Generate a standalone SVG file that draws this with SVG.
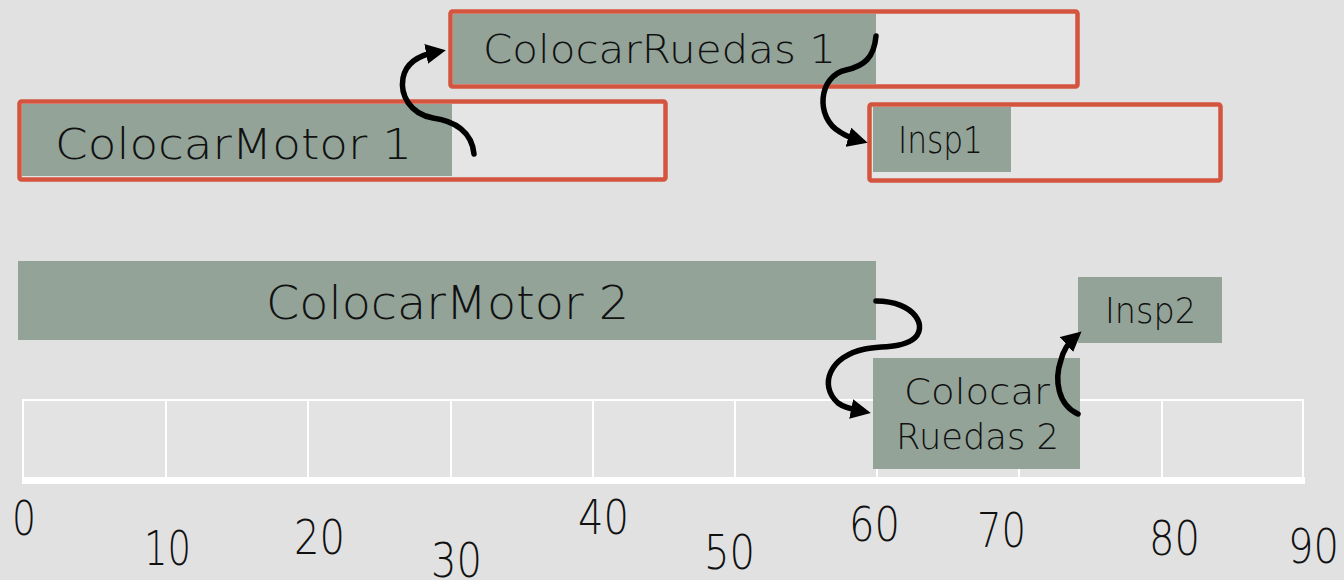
<svg xmlns="http://www.w3.org/2000/svg" width="1344" height="580" viewBox="0 0 1344 580">
<style>
.bg{fill:#e1e1e1}
.task{fill:#93a398}
.slot{fill:#e5e5e5;stroke:#d4553f;stroke-width:4.5}
.lbl{font-family:"DejaVu Sans","Liberation Sans",Arial,sans-serif;font-weight:200;fill:#111}
.num{font-family:"DejaVu Sans","Liberation Sans",Arial,sans-serif;font-weight:200;fill:#111;font-size:48px}
.grid{stroke:#ffffff;stroke-width:2;fill:none}
.conn{fill:none;stroke:#000;stroke-width:5.5;stroke-linecap:round}
</style>
<defs>
<marker id="ah" viewBox="0 0 10 10" refX="5" refY="5" markerWidth="20" markerHeight="20" markerUnits="userSpaceOnUse" orient="auto">
<path d="M0,0 L10,5 L0,10 z" fill="#000"/>
</marker>
</defs>
<rect class="bg" x="0" y="0" width="1344" height="580"/>

<g id="timeline">
<rect x="22" y="400" width="1282" height="78" fill="#e3e3e3" stroke="none"/>
<line class="grid" x1="22" y1="400" x2="1304" y2="400"/>
<line class="grid" x1="23" y1="400" x2="23" y2="478"/>
<line class="grid" x1="166" y1="400" x2="166" y2="478"/>
<line class="grid" x1="308" y1="400" x2="308" y2="478"/>
<line class="grid" x1="451" y1="400" x2="451" y2="478"/>
<line class="grid" x1="593" y1="400" x2="593" y2="478"/>
<line class="grid" x1="735" y1="400" x2="735" y2="478"/>
<line class="grid" x1="877" y1="400" x2="877" y2="478"/>
<line class="grid" x1="1019" y1="400" x2="1019" y2="478"/>
<line class="grid" x1="1162" y1="400" x2="1162" y2="478"/>
<line class="grid" x1="1303" y1="400" x2="1303" y2="478"/>
<rect x="22" y="477" width="1283" height="7" fill="#ffffff"/>
<text class="num" x="12" y="535" textLength="24" lengthAdjust="spacingAndGlyphs">0</text>
<text class="num" x="144" y="565" textLength="47" lengthAdjust="spacingAndGlyphs">10</text>
<text class="num" x="294" y="554" textLength="51" lengthAdjust="spacingAndGlyphs">20</text>
<text class="num" x="431" y="577" textLength="51" lengthAdjust="spacingAndGlyphs">30</text>
<text class="num" x="578" y="534" textLength="51" lengthAdjust="spacingAndGlyphs">40</text>
<text class="num" x="704" y="569" textLength="51" lengthAdjust="spacingAndGlyphs">50</text>
<text class="num" x="849" y="541" textLength="51" lengthAdjust="spacingAndGlyphs">60</text>
<text class="num" x="977" y="547" textLength="49" lengthAdjust="spacingAndGlyphs">70</text>
<text class="num" x="1149" y="555" textLength="51" lengthAdjust="spacingAndGlyphs">80</text>
<text class="num" x="1288" y="563" textLength="51" lengthAdjust="spacingAndGlyphs">90</text>
</g>

<g id="colocarMotor1">
<rect class="slot" x="19.5" y="101.5" width="646" height="78" rx="2"/>
<rect class="task" x="22" y="104" width="430" height="72"/>
<text class="lbl" x="55" y="159" font-size="43" textLength="357" lengthAdjust="spacingAndGlyphs">ColocarMotor 1</text>
</g>

<g id="colocarRuedas1">
<rect class="slot" x="450.5" y="11.5" width="627" height="75" rx="2"/>
<rect class="task" x="453" y="14" width="423" height="70"/>
<text class="lbl" x="483" y="63" font-size="39" textLength="353" lengthAdjust="spacingAndGlyphs">ColocarRuedas 1</text>
</g>

<g id="insp1">
<rect class="slot" x="869.5" y="104.5" width="351" height="76" rx="2"/>
<rect class="task" x="873" y="107" width="138" height="65"/>
<text class="lbl" x="898" y="153" font-size="37" textLength="85" lengthAdjust="spacingAndGlyphs">Insp1</text>
</g>

<g id="colocarMotor2">
<rect class="task" x="18" y="261" width="858" height="79"/>
<text class="lbl" x="266" y="319" font-size="46" textLength="363" lengthAdjust="spacingAndGlyphs">ColocarMotor 2</text>
</g>

<g id="insp2">
<rect class="task" x="1078" y="277" width="144" height="66"/>
<text class="lbl" x="1105" y="323" font-size="36" textLength="91" lengthAdjust="spacingAndGlyphs">Insp2</text>
</g>

<g id="colocarRuedas2">
<rect class="task" x="873" y="358" width="207" height="111"/>
<text class="lbl" x="904" y="404" font-size="36" textLength="146" lengthAdjust="spacingAndGlyphs">Colocar</text>
<text class="lbl" x="896" y="449" font-size="36" textLength="163" lengthAdjust="spacingAndGlyphs">Ruedas 2</text>
</g>

<g id="connectors">
<path class="conn" marker-end="url(#ah)" d="M474,154 C472,132 455,121 433,118 C410,114 400,95 403,78 C406,62 420,55 436,52"/>
<path class="conn" marker-end="url(#ah)" d="M876,36 C874,58 864,66 846,70 C818,76 815,118 840,132 C846,136 851,138 858,140"/>
<path class="conn" marker-end="url(#ah)" d="M876,301 C915,301 930,328 912,340 C900,348 880,346 865,349 C830,356 818,385 838,403 C843,407 851,409 861,411"/>
<path class="conn" marker-end="url(#ah)" d="M1078,414 C1058,405 1054,380 1061,360 C1063,352 1066,345 1074,338"/>
</g>
</svg>
